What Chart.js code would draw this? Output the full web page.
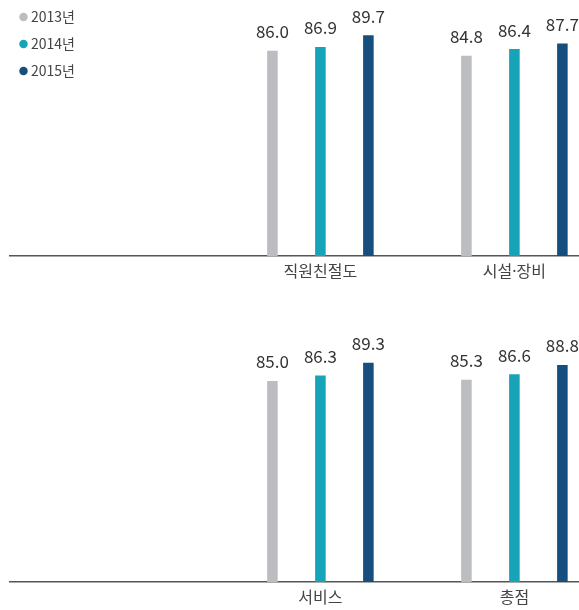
<!DOCTYPE html>
<html>
<head>
<meta charset="utf-8">
<script src="https://cdn.jsdelivr.net/npm/chart.js@4/dist/chart.umd.min.js"></script>
<style>
  html, body { margin: 0; padding: 0; background: #ffffff; overflow: hidden; width: 579px; height: 610px; }
  .wrap { position: absolute; left: 0; width: 579px; height: 300px; }
  #w1 { top: -3px; }
  #w2 { top: 323px; }
</style>
</head>
<body>
<div class="wrap" id="w1"><canvas id="c1" width="579" height="300"></canvas></div>
<div class="wrap" id="w2"><canvas id="c2" width="579" height="300"></canvas></div>
<script>
// ---- data ----
const years = ['2013년', '2014년', '2015년'];
const topCategories = ['직원친절도', '시설·장비'];
const top2013 = [86.0, 84.8];
const top2014 = [86.9, 86.4];
const top2015 = [89.7, 87.7];
const bottomCategories = ['서비스', '총점'];
const bottom2013 = [85.0, 85.3];
const bottom2014 = [86.3, 86.6];
const bottom2015 = [89.3, 88.8];

const colors = ['#bcbdc1', '#17a3b8', '#164e7e'];
const FONT = "'Noto Sans CJK KR', 'Noto Sans', sans-serif";
const TICK_FONT = "'Noto Sans', 'Noto Sans CJK KR', sans-serif";

const valueLabels = {
  id: 'valueLabels',
  afterDatasetsDraw(chart) {
    const ctx = chart.ctx;
    ctx.save();
    ctx.font = '17px ' + FONT;
    ctx.fillStyle = '#333333';
    ctx.textAlign = 'center';
    ctx.textBaseline = 'middle';
    chart.data.datasets.forEach((ds, di) => {
      const meta = chart.getDatasetMeta(di);
      meta.data.forEach((el, i) => {
        ctx.fillText(ds.data[i].y.toFixed(1), el.x, el.y - 19);
      });
    });
    ctx.restore();
  }
};

function makeChart(id, cats, series, showLegend) {
  const datasets = series.map((vals, k) => ({
    label: years[k],
    data: vals.map((v, i) => ({ x: i + 1, y: v })),
    backgroundColor: colors[k],
    borderWidth: 0,
    categoryPercentage: 0.742,
    barPercentage: 0.22
  }));
  return new Chart(document.getElementById(id), {
    type: 'bar',
    data: { datasets },
    options: {
      responsive: false,
      animation: false,
      devicePixelRatio: 1,
      layout: { padding: { left: 10, right: 0, top: 0, bottom: 7.8 } },
      plugins: {
        legend: {
          display: showLegend,
          position: 'chartArea',
          align: 'start',
          labels: {
            usePointStyle: true,
            pointStyle: 'circle',
            boxWidth: 1,
            boxHeight: 6,
            padding: 13,
            color: '#444444',
            font: { family: FONT, size: 14 }
          }
        },
        tooltip: { enabled: false }
      },
      scales: {
        x: {
          type: 'linear',
          offset: false,
          min: -0.6,
          max: 2.333,
          afterBuildTicks: (scale) => { scale.ticks = [{ value: 1 }, { value: 2 }]; },
          grid: { display: false, drawTicks: false },
          border: { display: true, color: '#555555', width: 1.5 },
          ticks: {
            padding: 7,
            color: '#444444',
            font: { family: TICK_FONT, size: 16 },
            callback: (v) => cats[v - 1]
          }
        },
        y: {
          display: false,
          min: 37.4,
          max: 98.74
        }
      }
    },
    plugins: [valueLabels]
  });
}

makeChart('c1', topCategories, [top2013, top2014, top2015], true);
makeChart('c2', bottomCategories, [bottom2013, bottom2014, bottom2015], false);
</script>
</body>
</html>
